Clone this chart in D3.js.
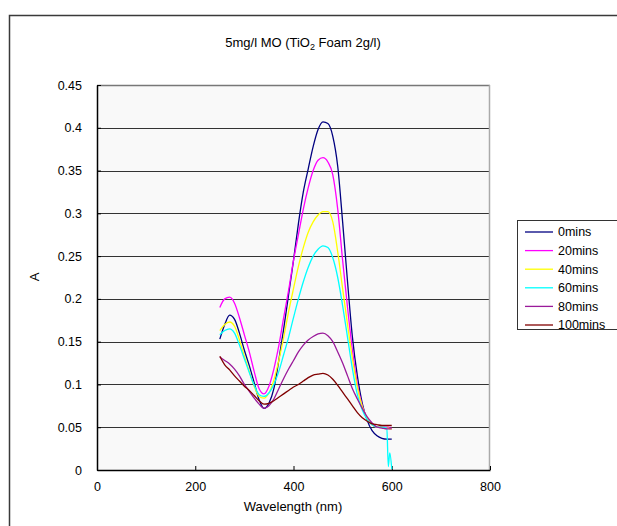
<!DOCTYPE html>
<html>
<head>
<meta charset="utf-8">
<script src="https://cdn.jsdelivr.net/npm/d3@7"></script>
<style>
  body { margin: 0; background: #fff; }
  svg { display: block; font-family: "Liberation Sans", Arial, sans-serif; }
</style>
</head>
<body>
<div id="chart"></div>
<script>
// wavelength grid (nm), shared by all series
const wavelengths = [250, 260, 270, 280, 290, 300, 310, 320, 330, 340, 350, 360, 370, 380, 390,
  400, 410, 420, 430, 440, 450, 460, 470, 480, 490, 500, 510, 520, 530, 540, 550, 560, 570,
  580, 590, 593, 596, 600]

const mins0 = [0.153, 0.170, 0.181, 0.176, 0.160, 0.140, 0.122, 0.102, 0.082, 0.072, 0.078, 0.095,
  0.128, 0.165, 0.205, 0.245, 0.288, 0.325, 0.352, 0.378, 0.398, 0.407, 0.405, 0.390, 0.355, 0.290,
  0.220, 0.155, 0.110, 0.078, 0.058, 0.046, 0.040, 0.037, 0.036, 0.036, 0.036, 0.036]
const mins20 = [0.190, 0.200, 0.202, 0.195, 0.178, 0.158, 0.138, 0.115, 0.095, 0.089, 0.098, 0.118,
  0.145, 0.178, 0.210, 0.245, 0.275, 0.305, 0.330, 0.350, 0.362, 0.365, 0.360, 0.345, 0.305, 0.245,
  0.190, 0.140, 0.100, 0.075, 0.060, 0.053, 0.050, 0.050, 0.050, 0.050, 0.049, 0.049]
const mins40 = [0.163, 0.170, 0.173, 0.168, 0.152, 0.133, 0.115, 0.098, 0.086, 0.084, 0.090, 0.105,
  0.128, 0.155, 0.185, 0.212, 0.238, 0.260, 0.278, 0.290, 0.298, 0.302, 0.302, 0.290, 0.255, 0.212,
  0.170, 0.130, 0.097, 0.074, 0.060, 0.053, 0.050, 0.050, 0.049, 0.049, 0.048, 0.048]
const mins60 = [0.158, 0.163, 0.165, 0.160, 0.146, 0.130, 0.114, 0.099, 0.088, 0.086, 0.090, 0.100,
  0.115, 0.135, 0.155, 0.178, 0.200, 0.220, 0.237, 0.250, 0.258, 0.262, 0.260, 0.248, 0.225, 0.192,
  0.155, 0.118, 0.088, 0.070, 0.059, 0.053, 0.050, 0.050, 0.049, 0.004, 0.020, 0.001]
const mins80 = [0.132, 0.128, 0.124, 0.118, 0.110, 0.100, 0.092, 0.084, 0.077, 0.072, 0.075, 0.083,
  0.095, 0.107, 0.118, 0.128, 0.138, 0.146, 0.152, 0.156, 0.159, 0.160, 0.157, 0.150, 0.138, 0.125,
  0.110, 0.095, 0.083, 0.072, 0.062, 0.055, 0.050, 0.049, 0.048, 0.048, 0.048, 0.048]
const mins100 = [0.133, 0.123, 0.117, 0.110, 0.104, 0.098, 0.093, 0.087, 0.081, 0.077, 0.078, 0.081,
  0.085, 0.089, 0.093, 0.097, 0.100, 0.104, 0.108, 0.111, 0.112, 0.113, 0.111, 0.106, 0.099, 0.091,
  0.083, 0.075, 0.067, 0.061, 0.057, 0.054, 0.053, 0.052, 0.052, 0.052, 0.052, 0.052]

const seriesNames = ['0mins', '20mins', '40mins', '60mins', '80mins', '100mins']
const seriesValues = [mins0, mins20, mins40, mins60, mins80, mins100]
const seriesColors = ['#000080', '#ff00ff', '#ffff00', '#00ffff', '#9a1a9a', '#800000']

const xTicks = [0, 200, 400, 600, 800]
const yTicks = [0, 0.05, 0.1, 0.15, 0.2, 0.25, 0.3, 0.35, 0.4, 0.45]

const width = 617, height = 526
const plot = { left: 97, right: 490, top: 85, bottom: 470 }

const svg = d3.select('#chart').append('svg')
  .attr('width', width)
  .attr('height', height)

// outer chart frame, runs off the right and bottom edges
svg.append('rect')
  .attr('x', 9.5).attr('y', 15.5)
  .attr('width', 700).attr('height', 600)
  .attr('fill', '#fff')
  .attr('stroke', '#3a3a3a')
  .attr('stroke-width', 1.5)

const x = d3.scaleLinear().domain([0, 800]).range([plot.left, plot.right])
const y = d3.scaleLinear().domain([0, 0.45]).range([plot.bottom, plot.top])

// plot area
svg.append('rect')
  .attr('x', plot.left).attr('y', plot.top)
  .attr('width', plot.right - plot.left).attr('height', plot.bottom - plot.top)
  .attr('fill', '#f9f9f9')

// horizontal gridlines
svg.append('g').selectAll('line')
  .data(yTicks.filter(d => d > 0 && d < 0.45))
  .enter().append('line')
    .attr('x1', plot.left).attr('x2', plot.right)
    .attr('y1', d => Math.round(y(d)) + 0.5).attr('y2', d => Math.round(y(d)) + 0.5)
    .attr('stroke', '#333')

// top and right borders of the plot area
svg.append('line')
  .attr('x1', plot.left).attr('x2', plot.right)
  .attr('y1', plot.top + 0.5).attr('y2', plot.top + 0.5)
  .attr('stroke', '#777').attr('stroke-width', 1.5)
svg.append('line')
  .attr('x1', plot.right - 0.5).attr('x2', plot.right - 0.5)
  .attr('y1', plot.top).attr('y2', plot.bottom)
  .attr('stroke', '#aaa').attr('stroke-width', 1.5)

// axes, ticks pointing into the plot
const xAxis = d3.axisBottom(x).tickValues(xTicks).tickSizeInner(-4).tickSizeOuter(0).tickPadding(12)
const yAxis = d3.axisLeft(y).tickValues(yTicks).tickSizeInner(-4).tickSizeOuter(0).tickPadding(15)
  .tickFormat(d => d3.format('~g')(d))

const gx = svg.append('g')
  .attr('transform', `translate(0,${plot.bottom})`)
  .call(xAxis)
const gy = svg.append('g')
  .attr('transform', `translate(${plot.left},0)`)
  .call(yAxis)

for (const g of [gx, gy]) {
  g.select('.domain').attr('stroke', '#000').attr('stroke-width', 1.5)
  g.selectAll('.tick line').attr('stroke', '#000')
  g.selectAll('.tick text').attr('font-size', 12.5).attr('fill', '#000')
    .attr('font-family', '"Liberation Sans", Arial, sans-serif')
}

// curves
const line = d3.line()
  .x((d, i) => x(wavelengths[i]))
  .y(d => y(d))
  .curve(d3.curveMonotoneX)

svg.append('g').selectAll('path')
  .data(seriesValues)
  .enter().append('path')
    .attr('d', line)
    .attr('fill', 'none')
    .attr('stroke', (d, i) => seriesColors[i])
    .attr('stroke-width', 1.3)

// title
const title = svg.append('text')
  .attr('x', 303).attr('y', 47)
  .attr('text-anchor', 'middle')
  .attr('font-size', 13)
title.append('tspan').text('5mg/l MO (TiO')
title.append('tspan').text('2').attr('font-size', 9).attr('dy', 3)
title.append('tspan').text(' Foam 2g/l)').attr('dy', -3)

// axis titles
svg.append('text')
  .attr('x', 293).attr('y', 511)
  .attr('text-anchor', 'middle')
  .attr('font-size', 13)
  .text('Wavelength (nm)')

svg.append('text')
  .attr('transform', 'translate(39,277) rotate(-90)')
  .attr('text-anchor', 'middle')
  .attr('font-size', 13)
  .text('A')

// legend
const legend = svg.append('g')
legend.append('rect')
  .attr('x', 517.5).attr('y', 220.5)
  .attr('width', 130).attr('height', 109)
  .attr('fill', '#fff')
  .attr('stroke', '#333')

const item = legend.selectAll('.item')
  .data(seriesNames)
  .enter().append('g')
    .attr('class', 'item')
    .attr('transform', (d, i) => `translate(0,${232 + i * 18.6})`)

item.append('line')
  .attr('x1', 525).attr('x2', 553)
  .attr('stroke', (d, i) => seriesColors[i])
  .attr('stroke-width', 1.3)

item.append('text')
  .attr('x', 558).attr('dy', '0.35em')
  .attr('font-size', 12.5)
  .text(d => d)
</script>
</body>
</html>
